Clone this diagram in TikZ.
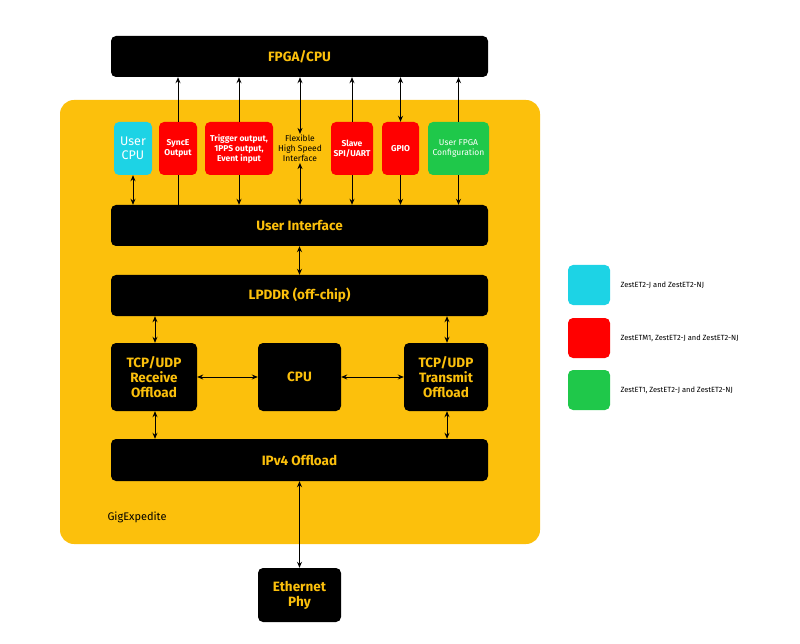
\documentclass[tikz,border=0pt]{standalone}
\usepackage{fontspec}
\setmainfont{Fira Sans}
\usetikzlibrary{arrows.meta}
\definecolor{gold}{HTML}{FCC00C}
\definecolor{cy}{HTML}{1DD3E5}
\definecolor{rd}{HTML}{FF0000}
\definecolor{gr}{HTML}{1FC84A}
\begin{document}
\begin{tikzpicture}[x=1pt,y=-1pt,
 blk/.style={fill=black,rounded corners=5pt,text=gold,font=\bfseries\fontsize{13.5}{15}\selectfont,align=center,inner sep=0},
 sm/.style={rounded corners=5pt,text=white,font=\bfseries\fontsize{8.5}{10}\selectfont,align=center,inner sep=0},
 arr/.style={-{Stealth[length=6pt,width=5pt]},line width=1pt},
 darr/.style={{Stealth[length=6pt,width=5pt]}-{Stealth[length=6pt,width=5pt]},line width=1pt},
 leg/.style={font=\fontsize{7.5}{9}\selectfont,anchor=west}]
\useasboundingbox (0,0) rectangle (800,644);
\fill[gold,rounded corners=14pt] (60,100) rectangle (540,544);
\node[blk,minimum width=377,minimum height=41] (fpga) at (299.5,56.5) {FPGA/CPU};
\node[blk,minimum width=377,minimum height=41] (ui) at (299.5,225.5) {User Interface};
\node[blk,minimum width=377,minimum height=41] (ddr) at (299.5,295.5) {LPDDR (off-chip)};
\node[blk,minimum width=377,minimum height=42] (ip) at (299.5,460) {IPv4 Offload};
\node[blk,minimum width=86,minimum height=68] (rx) at (154,377) {TCP/UDP\\Receive\\Offload};
\node[blk,minimum width=83,minimum height=68] (cpu) at (299.5,377) {CPU};
\node[blk,minimum width=84,minimum height=68] (tx) at (446,377) {TCP/UDP\\Transmit\\Offload};
\node[blk,minimum width=83,minimum height=54] (eth) at (299.5,595) {Ethernet\\Phy};
\node[sm,fill=cy,minimum width=38,minimum height=53,font=\fontsize{12.5}{14}\selectfont] (ucpu) at (133,148.5) {User\\CPU};
\node[sm,fill=rd,minimum width=38,minimum height=53] (sync) at (178,148.5) {SyncE\\Output};
\node[sm,fill=rd,minimum width=68,minimum height=53] (trig) at (239,148.5) {Trigger output,\\1PPS output,\\Event input};
\node[font=\fontsize{8.5}{10}\selectfont,align=center,inner sep=1pt] (flex) at (300,148.5) {Flexible\\High Speed\\Interface};
\node[sm,fill=rd,minimum width=42,minimum height=53] (slave) at (352,148.5) {Slave\\SPI/UART};
\node[sm,fill=rd,minimum width=37,minimum height=53] (gpio) at (400.5,148.5) {GPIO};
\node[sm,fill=gr,minimum width=61,minimum height=53,font=\fontsize{8.5}{10}\selectfont] (ufp) at (458.5,148.5) {User FPGA\\Configuration};
\node[font=\fontsize{11}{13}\selectfont,anchor=west] (gig) at (104,517) {GigExpedite};
\node[sm,fill=rd!0!cy,minimum width=42,minimum height=40] (l1) at (589,285) {};
\node[sm,fill=rd,minimum width=42,minimum height=40] (l2) at (589,338) {};
\node[sm,fill=gr,minimum width=42,minimum height=40] (l3) at (589,390) {};
\node[leg] at (617,285) {ZestET2-J and ZestET2-NJ};
\node[leg] at (617,338) {ZestETM1, ZestET2-J and ZestET2-NJ};
\node[leg] at (617,390) {ZestET1, ZestET2-J and ZestET2-NJ};
\draw[darr] (ucpu.south) -- (ucpu.south |- ui.north);
\draw[line width=1pt] (sync.south |- ui.north) -- (sync.south);
\draw[arr] (sync.north) -- (sync.north |- fpga.south);
\draw[arr] (trig.north) -- (trig.north |- fpga.south);
\draw[arr] (trig.south) -- (trig.south |- ui.north);
\draw[darr] (flex.north) -- (flex.north |- fpga.south);
\draw[darr] (flex.south) -- (flex.south |- ui.north);
\draw[arr] (slave.north) -- (slave.north |- fpga.south);
\draw[arr] (slave.south) -- (slave.south |- ui.north);
\draw[darr] (gpio.north) -- (gpio.north |- fpga.south);
\draw[arr] (gpio.south) -- (gpio.south |- ui.north);
\draw[arr] (ufp.north) -- (ufp.north |- fpga.south);
\draw[arr] (ufp.south) -- (ufp.south |- ui.north);
\draw[darr] (ui) -- (ddr);
\draw[darr] (ddr.south -| 155,0) -- (rx.north -| 155,0);
\draw[darr] (ddr.south -| 447,0) -- (tx.north -| 447,0);
\draw[darr] (ip.north -| 155,0) -- (rx.south -| 155,0);
\draw[darr] (ip.north -| 447,0) -- (tx.south -| 447,0);
\draw[darr] (rx) -- (cpu);
\draw[darr] (cpu) -- (tx);
\draw[darr] (ip) -- (eth);
\end{tikzpicture}
\end{document}
